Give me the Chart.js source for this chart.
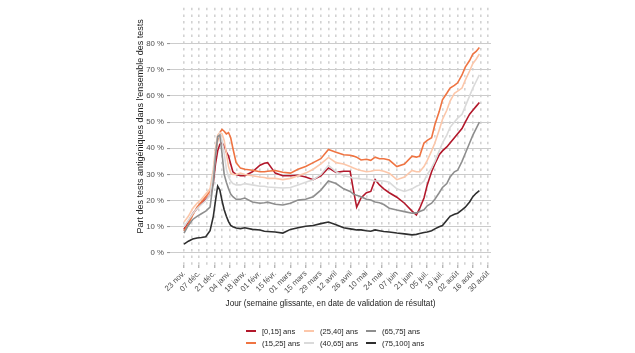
<!DOCTYPE html>
<html>
<head>
<meta charset="utf-8">
<script src="https://cdn.jsdelivr.net/npm/chart.js@4.4.0/dist/chart.umd.min.js"></script>
<style>
    body { margin: 0; background: #fff; }
    #cadre { position: relative; width: 635px; height: 353px; }
    #legende {
        position: absolute; left: 246px; top: 325px;
        display: grid; grid-auto-flow: column;
        grid-template-columns: 58px 62px 70px; grid-template-rows: 12px 12px;
        font: 7.6px "Liberation Sans", Arial, sans-serif; color: #222;
    }
    #legende div { display: flex; align-items: center; white-space: nowrap; }
    #legende span.trait { display: inline-block; width: 10px; height: 2px; margin-right: 6px; }
</style>
</head>
<body>
<div id="cadre">
    <canvas id="grafico_tests" width="635" height="353"></canvas>
    <div id="legende"></div>
</div>
<script>
// jours depuis le 23 nov. 2020
var jours = [0, 4, 8, 12, 16, 20, 24, 27, 29, 31, 33, 35, 37, 39, 41, 43, 45, 48, 52, 56,
    63, 70, 74, 77, 84, 91, 98, 105, 112, 119, 126, 133, 140, 147, 153, 156, 159, 163, 168, 172,
    176, 180, 184, 189, 196, 203, 210, 214, 217, 221, 224, 228, 231, 235, 238, 242, 245, 249, 252, 256,
    259, 263, 266, 269, 272];

var etiquettesDates = ["23 nov.", "07 déc.", "21 déc.", "04 janv.", "18 janv.", "01 févr.", "15 févr.",
    "01 mars", "15 mars", "29 mars", "12 avril", "26 avril", "10 mai", "24 mai", "07 juin", "21 juin",
    "05 juil.", "19 juil.", "02 août", "16 août", "30 août"];

var tranches = ["[0,15] ans", "(15,25] ans", "(25,40] ans", "(40,65] ans", "(65,75] ans", "(75,100] ans"];
var couleurs = ["#b2182b", "#ef7442", "#fcc7aa", "#dadada", "#8e8e8e", "#2e2e2e"];

var part_0_15 = [9.1, 12, 15, 17, 19, 20.5, 22, 27, 34, 39, 41.5, 42, 41, 38.5, 37, 34, 31, 30, 29.5, 29.5,
    31, 33.5, 34.3, 34.5, 30.5, 29.5, 29.5, 29.7, 29, 28, 29.5, 32.5, 30.8, 31.2, 31.2, 24, 17.5, 21, 23, 23.5,
    28, 26, 24.5, 23, 21.3, 19, 16, 14.5, 17, 21, 26, 31, 34, 37.5, 39, 40.5, 42, 44, 45.5, 47.5,
    50, 53, 54.5, 56, 57.5];
var part_15_25 = [8.5, 11, 14.5, 17.5, 19.5, 21.5, 23.5, 30, 38, 43, 46, 47.2, 46.5, 45.5, 46, 44, 40, 34.5, 32.4, 32,
    31.6, 31, 31, 31.2, 31.5, 30.8, 30.5, 32, 33, 34.5, 36, 39.5, 38.5, 37.5, 37.3, 37, 36.6, 35.5, 35.8, 35.4,
    36.6, 36, 36, 35.5, 33, 34, 37, 36.6, 37, 42, 43, 44, 49, 54, 58.5, 61, 63, 64, 65, 68,
    71, 73.5, 76, 77, 78.5];
var part_25_40 = [11.8, 14, 17, 19, 20.5, 22.5, 24.5, 32, 40, 45, 46, 45.5, 43, 38, 33, 30.5, 30, 30, 30.5, 30,
    29.5, 29, 28.8, 28.5, 28.5, 28, 28.5, 29.5, 30.5, 32, 34, 36.5, 34.5, 34, 33, 32.5, 32, 31.5, 31, 31.2,
    31.6, 31.6, 31.2, 30.5, 28, 29, 31.5, 31, 31, 33, 35.4, 39, 42, 47, 51, 54.5, 58, 61, 61.8, 63,
    66, 69.5, 72.4, 74, 76];
var part_40_65 = [10, 12.5, 15, 17, 18.5, 20, 22, 30, 38, 44, 45.5, 43, 38, 32, 29, 27.5, 26.5, 26, 26, 26.5,
    26, 25.5, 25.5, 25.2, 25, 24.8, 25, 26, 27, 28, 30, 33.5, 31, 29.5, 29, 28.5, 28.5, 28.3, 28.2, 28,
    27.5, 27.6, 27.5, 27, 24.5, 23.5, 24.5, 25.5, 26, 27.5, 30, 32.5, 35, 39, 42, 45, 48, 50, 51.5, 53,
    56, 60, 63, 65.5, 68];
var part_65_75 = [7.6, 10.5, 12.8, 14, 15, 16, 17.5, 27, 37, 44.5, 45, 38, 30, 27, 24.5, 22.5, 21.5, 20.5, 20.5, 21,
    19.5, 19, 19.2, 19.4, 18.6, 18.3, 19, 20.2, 20.5, 21.5, 24, 27.5, 26.5, 24.5, 23.5, 22.5, 22, 21.5, 20.5, 20.2,
    19.5, 19.2, 18.5, 17.1, 16.4, 15.8, 15.2, 15.3, 15.8, 16.5, 18, 19, 20.5, 23, 25, 26.5, 29, 31, 31.6, 35,
    38, 42, 45, 47.5, 50];
var part_75_100 = [3.4, 4.5, 5.3, 5.7, 5.9, 6.2, 8.5, 14, 20, 25.5, 24, 20, 16.5, 14, 12, 10.5, 10, 9.5, 9.3, 9.6,
    9, 8.8, 8.3, 8.2, 8, 7.6, 9, 9.6, 10.2, 10.5, 11.2, 11.8, 10.8, 9.6, 9.2, 9, 8.8, 8.8, 8.5, 8.3,
    8.8, 8.5, 8.2, 8, 7.6, 7.3, 6.9, 7.1, 7.4, 7.8, 8, 8.5, 9.2, 10, 10.5, 12.5, 14, 14.8, 15.2, 16.5,
    17.5, 19.5, 21.5, 22.8, 23.8];

var ticksY = [0, 10, 20, 30, 40, 50, 60, 70, 80];

var series = [part_0_15, part_15_25, part_25_40, part_40_65, part_65_75, part_75_100];

var datasets = [];
for (var i = 0; i < series.length; i++) {
    var pontos = [];
    for (var j = 0; j < jours.length; j++) {
        pontos.push({ x: jours[j], y: series[i][j] });
    }
    datasets.push({
        label: tranches[i],
        data: pontos,
        borderColor: couleurs[i],
        backgroundColor: couleurs[i],
        borderWidth: 1.6,
        pointRadius: 0,
        order: series.length - i
    });
}

// legende en 2 lignes x 3 colonnes, comme ggplot
var legende = document.getElementById("legende");
for (var k = 0; k < tranches.length; k++) {
    legende.innerHTML += `<div><span class="trait" style="background:${couleurs[k]}"></span>${tranches[k]}</div>`;
}

var police = "'Liberation Sans', Arial, sans-serif";

var graficoTests = new Chart(document.getElementById('grafico_tests').getContext('2d'), {
    type: 'line',
    data: { datasets: datasets },
    options: {
        responsive: false,
        animation: false,
        layout: { padding: { left: 130, right: 144, top: 7, bottom: 38 } },
        plugins: {
            legend: { display: false },
            tooltip: { enabled: false }
        },
        scales: {
            x: {
                type: 'linear',
                min: -12.9,
                max: 282.7,
                afterBuildTicks: (s) => {
                    var t = [];
                    for (var d = 0; d <= 280; d += 7) t.push({ value: d });
                    s.ticks = t;
                },
                afterFit: (s) => { s.height = 50; },
                ticks: {
                    autoSkip: false,
                    minRotation: 45,
                    maxRotation: 45,
                    padding: 1,
                    color: "#4d4d4d",
                    font: { size: 7.8, family: police },
                    callback: (v) => (v % 14 == 0 ? etiquettesDates[v / 14] : '')
                },
                grid: {
                    color: "#d2d2d2",
                    lineWidth: 1.6,
                    tickLength: 3,
                    tickWidth: 1,
                    tickColor: (ctx) => (ctx.tick && ctx.tick.value % 14 == 0 ? "#999" : "rgba(0,0,0,0)")
                },
                border: { display: false, dash: [2.5, 4.2] },
                title: {
                    display: true,
                    text: "Jour (semaine glissante, en date de validation de résultat)",
                    color: "#222",
                    font: { size: 8.2, family: police },
                    padding: { top: 0, bottom: 6 }
                }
            },
            y: {
                min: -4.6,
                max: 93.7,
                afterBuildTicks: (s) => { s.ticks = ticksY.map((v) => ({ value: v })); },
                afterFit: (s) => { s.width = 40; },
                ticks: {
                    padding: 3,
                    color: "#4d4d4d",
                    font: { size: 7.8, family: police },
                    callback: (v) => v + " %"
                },
                grid: {
                    color: "#cccccc",
                    lineWidth: 1.1,
                    tickLength: 3,
                    tickColor: "#999"
                },
                border: { display: false },
                title: {
                    display: true,
                    text: "        Part des tests antigéniques dans l'ensemble des tests",
                    color: "#222",
                    font: { size: 9, family: police },
                    padding: { top: 5.5, bottom: 0 }
                }
            }
        }
    }
});
</script>
</body>
</html>
